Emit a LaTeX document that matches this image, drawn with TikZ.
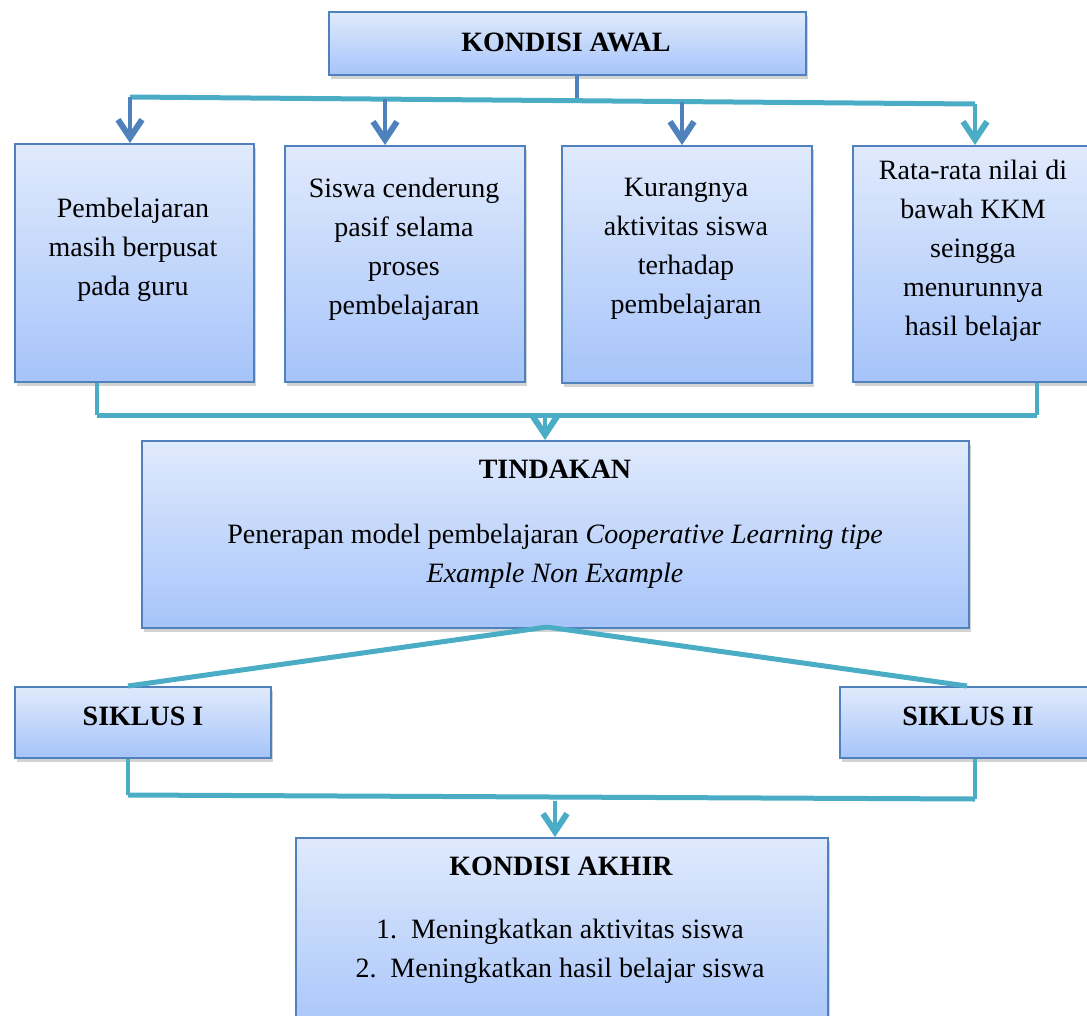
\documentclass[tikz,border=0pt]{standalone}
\usepackage{fontspec}
\setmainfont{Liberation Serif}
\usetikzlibrary{arrows.meta,shadows}
\definecolor{bord}{RGB}{79,129,189}
\definecolor{tealc}{RGB}{75,172,198}
\definecolor{gtop}{RGB}{224,234,252}
\definecolor{gbot}{RGB}{166,196,250}
\tikzset{
 box/.style={draw=bord, line width=2pt, top color=gtop, bottom color=gbot,
   drop shadow={shadow xshift=2pt,shadow yshift=-4pt,opacity=0.35}, inner sep=0pt, anchor=north west},
 txt/.style={align=center, font=\fontsize{28}{39}\selectfont, inner sep=0pt},
 ttl/.style={font=\fontsize{28}{34}\selectfont\bfseries, inner sep=0pt},
 conn/.style={draw=tealc, line width=5pt},
 vconn/.style={draw=tealc, line width=3.5pt},
 arrb/.style={draw=bord, line width=4.5pt, -{Straight Barb[length=18pt,width=24pt,line width=6pt]}},
 arrt/.style={draw=tealc, line width=4.5pt, -{Straight Barb[length=18pt,width=24pt,line width=6pt]}},
}
\begin{document}
\begin{tikzpicture}[x=1pt,y=-1pt]
\useasboundingbox (0,0) rectangle (1087,1015);

% boxes
\node[box, minimum width=477pt, minimum height=63pt] (awal) at (328,11) {};
\node[ttl] (tawal) at (566,42) {KONDISI AWAL};

\node[box, minimum width=239pt, minimum height=238pt] (b1) at (14,143) {};
\node[box, minimum width=240pt, minimum height=236pt] (b2) at (284,145) {};
\node[box, minimum width=250pt, minimum height=237pt] (b3) at (561,145) {};
\node[box, minimum width=245pt, minimum height=236pt] (b4) at (852,145) {};
\node[txt] (t1) at (133,250) {Pembelajaran\\masih berpusat\\pada guru};
\node[txt] (t2) at (404,249) {Siswa cenderung\\pasif selama\\proses\\pembelajaran};
\node[txt] (t3) at (686,249) {Kurangnya\\aktivitas siswa\\terhadap\\pembelajaran};
\node[txt] (t4) at (973,251) {Rata-rata nilai di\\bawah KKM\\seingga\\menurunnya\\hasil belajar};

\node[box, minimum width=827pt, minimum height=187pt] (tind) at (141,440) {};
\node[ttl] (ttind) at (555,469) {TINDAKAN};
\node[txt] (btind) at (555,556) {Penerapan model pembelajaran \textit{Cooperative Learning tipe}\\\textit{Example Non Example}};

\node[box, minimum width=256pt, minimum height=71pt] (s1) at (14,686) {};
\node[box, minimum width=253pt, minimum height=71pt] (s2) at (839,686) {};
\node[ttl] (ts1) at (143,716) {SIKLUS I};
\node[ttl] (ts2) at (968,716) {SIKLUS II};

\node[box, minimum width=532pt, minimum height=200pt] (akhir) at (295,837) {};
\node[ttl] (takhir) at (561,866) {KONDISI AKHIR};
\node[txt] (lakhir) at (560,951) {1.\ \ Meningkatkan aktivitas siswa\\2.\ \ Meningkatkan hasil belajar siswa};

% top bus
\coordinate (busL) at (130,97);
\coordinate (busR) at (975,104);
\draw[draw=bord, line width=4pt] (awal.south -| 577,0) -- (577,100);
\draw[conn] (busL) -- (busR);
\draw[arrb] (130,97) -- (b1.north -| 130,0);
\draw[arrb] (385,99) -- (b2.north -| 385,0);
\draw[arrb] (682,102) -- (b3.north -| 682,0);
\draw[arrt] (975,104) -- (b4.north -| 975,0);

% middle bus
\coordinate (mL) at (97,415);
\coordinate (mR) at (1037,415);
\draw[vconn] (b1.south -| mL) -- (mL);
\draw[vconn] (b4.south -| mR) -- (mR);
\draw[conn] (mL) -- (mR);
\draw[arrt] (545,415) -- (tind.north -| 545,0);

% split to cycles
\coordinate (tip) at (547,627);
\draw[conn] (tip) -- (s1.north -| 128,0);
\draw[conn] (tip) -- (s2.north -| 967,0);

% bottom bus
\coordinate (lL) at (128,795);
\coordinate (lR) at (975,799);
\draw[vconn] (s1.south -| lL) -- (lL);
\draw[vconn] (s2.south -| lR) -- (lR);
\draw[conn] (lL) -- (lR);
\draw[arrt] (555,801) -- (akhir.north -| 555,0);
\end{tikzpicture}
\end{document}
